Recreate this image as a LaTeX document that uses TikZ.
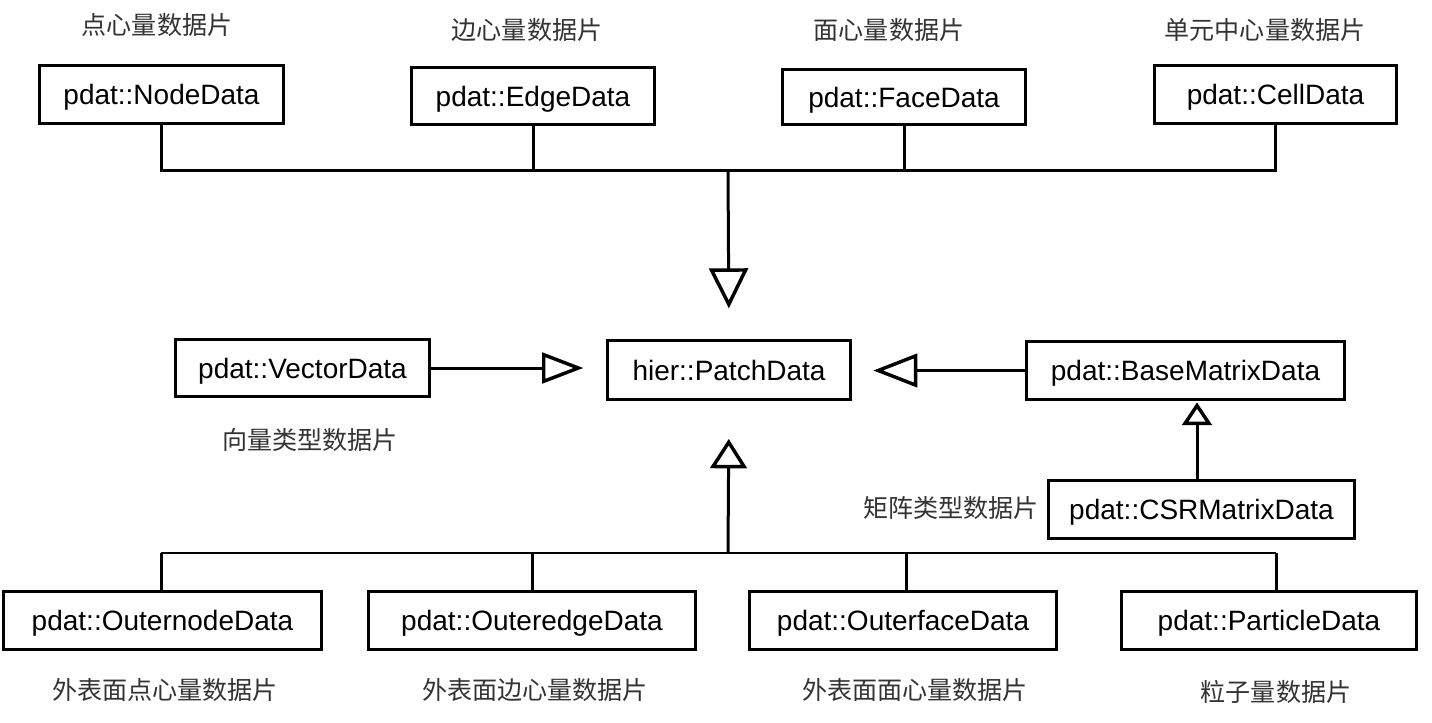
\documentclass[tikz,border=0pt]{standalone}
\usepackage{fontspec}
\setmainfont{Liberation Sans}
\newfontfamily\cjk{Noto Sans CJK SC}
\usetikzlibrary{arrows.meta,calc}
\begin{document}
\begin{tikzpicture}[x=0.75pt,y=-0.75pt,
  box/.style={draw,line width=2.25pt,rectangle,inner sep=0pt,font=\fontsize{21}{25}\selectfont,text=black,text height=15pt,text depth=0pt},
  lbl/.style={font=\cjk\fontsize{18.8}{22}\selectfont,text=black!80,inner sep=0pt},
  conn/.style={line width=2.25pt},
  ]
\useasboundingbox[fill=white] (0,0) rectangle (1432,722);
% top row
\node[box,minimum width={244*0.75pt},minimum height={58*0.75pt}] (n1) at (161.5,94.5) {pdat::NodeData};
\node[box,minimum width={243*0.75pt},minimum height={57*0.75pt}] (n2) at (533,96) {pdat::EdgeData};
\node[box,minimum width={243*0.75pt},minimum height={55*0.75pt}] (n3) at (904,97) {pdat::FaceData};
\node[box,minimum width={242*0.75pt},minimum height={58*0.75pt}] (n4) at (1275.5,94.5) {pdat::CellData};
\node[lbl] (l1) at (157,25) {点心量数据片};
\node[lbl] (l2) at (527,30) {边心量数据片};
\node[lbl] (l3) at (889,30) {面心量数据片};
\node[lbl] (l4) at (1265,30) {单元中心量数据片};
% middle row
\node[box,minimum width={243*0.75pt},minimum height={59*0.75pt}] (patch) at (729,370) {hier::PatchData};
\node[box,minimum width={254*0.75pt},minimum height={57*0.75pt}] (vec) at (302.5,368) {pdat::VectorData};
\node[box,minimum width={318*0.75pt},minimum height={58*0.75pt}] (base) at (1185.5,370.5) {pdat::BaseMatrixData};
\node[box,minimum width={306*0.75pt},minimum height={58*0.75pt}] (csr) at (1201.5,509.5) {pdat::CSRMatrixData};
\node[lbl] (lv) at (310,440) {向量类型数据片};
\node[lbl] (lm) at (951,508) {矩阵类型数据片};
% bottom row
\node[box,minimum width={318*0.75pt},minimum height={58*0.75pt}] (o1) at (162.5,620.5) {pdat::OuternodeData};
\node[box,minimum width={327*0.75pt},minimum height={58*0.75pt}] (o2) at (532,620.5) {pdat::OuteredgeData};
\node[box,minimum width={307*0.75pt},minimum height={58*0.75pt}] (o3) at (903,620.5) {pdat::OuterfaceData};
\node[box,minimum width={295*0.75pt},minimum height={58*0.75pt}] (o4) at (1269,620.5) {pdat::ParticleData};
\node[lbl] (b1) at (165,690) {外表面点心量数据片};
\node[lbl] (b2) at (535,690) {外表面边心量数据片};
\node[lbl] (b3) at (915,690) {外表面面心量数据片};
\node[lbl] (b4) at (1276,692) {粒子量数据片};
% top bus
\coordinate (tb) at (728,170);
\draw[conn] (n1.south) -- (n1.south|-tb) -- (n4.south|-tb) -- (n4.south);
\draw[conn] (n2.south) -- (n2.south|-tb);
\draw[conn] (n3.south) -- (n3.south|-tb);
\draw[conn,-{Triangle[open,length=30pt,width=29pt,line width=2.6pt]},shorten >=23pt] (tb) -- (patch.north);
% side arrows
\draw[conn,-{Triangle[open,length=31pt,width=23pt,line width=2.6pt]},shorten >=17pt] (vec.east) -- (vec.east-|patch.west);
\draw[conn,-{Triangle[open,length=33pt,width=25pt,line width=2.6pt]},shorten >=16pt] (base.west) -- (base.west-|patch.east);
\coordinate (ca) at ($(csr.north)+(-4.5,0)$);
\draw[conn,-{Triangle[open,length=17pt,width=22pt,line width=2.6pt]},shorten >=1pt] (ca) -- (ca|-base.south);
% bottom bus
\coordinate (bb) at (728,553);
\coordinate (d1) at ($(o1.north)+(-1.5,0)$);
\coordinate (d2) at (o2.north);
\coordinate (d3) at ($(o3.north)+(3,0)$);
\coordinate (d4) at ($(o4.north)+(7,0)$);
\draw[line width=1.9pt] (d1|-bb) -- (d4|-bb);
\draw[conn] (d1) -- (d1|-bb);
\draw[conn] (d2) -- (d2|-bb);
\draw[conn] (d3) -- (d3|-bb);
\draw[conn] (d4) -- (d4|-bb);
\draw[conn,-{Triangle[open,length=22pt,width=27.5pt,line width=2.6pt]},shorten >=28.5pt] (bb) -- (patch.south);
\end{tikzpicture}
\end{document}
